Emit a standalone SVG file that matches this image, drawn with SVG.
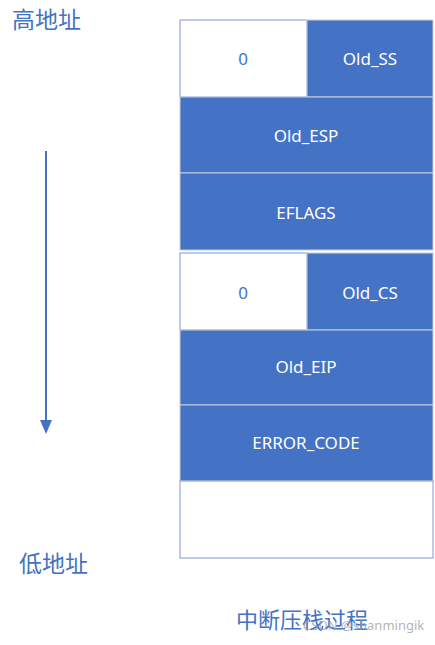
<svg xmlns="http://www.w3.org/2000/svg" width="435" height="645" viewBox="0 0 435 645">
<style>
.blue{fill:#4472C4;stroke:#C9CFD9;stroke-width:1}
.white{fill:#FFFFFF;stroke:#8FAADC;stroke-width:1.2}
.lw{font-family:"Noto Sans","Noto Sans CJK SC",sans-serif;font-size:17px;fill:#FFFFFF;text-anchor:middle;dominant-baseline:central}
.lb{font-family:"Noto Sans","Noto Sans CJK SC",sans-serif;font-size:17px;fill:#4472C4;text-anchor:middle;dominant-baseline:central}
.cjk{font-family:"Noto Sans CJK SC",sans-serif;fill:#4472C4}
</style>
<rect width="435" height="645" fill="#FFFFFF"/>
<g id="n_zero1"><rect class="white" x="180" y="20" width="127" height="77"/><text class="lb" x="243" y="58">0</text></g>
<g id="n_oldss"><rect class="blue" x="307" y="20" width="126" height="77"/><text class="lw" x="370" y="58">Old_SS</text></g>
<g id="n_oldesp"><rect class="blue" x="180" y="97" width="253" height="76"/><text class="lw" x="306" y="135">Old_ESP</text></g>
<g id="n_eflags"><rect class="blue" x="180" y="173" width="253" height="77"/><text class="lw" x="306" y="212">EFLAGS</text></g>
<g id="n_zero2"><rect class="white" x="180" y="253" width="127" height="77"/><text class="lb" x="243" y="292">0</text></g>
<g id="n_oldcs"><rect class="blue" x="307" y="253" width="126" height="77"/><text class="lw" x="370" y="292">Old_CS</text></g>
<g id="n_oldeip"><rect class="blue" x="180" y="330" width="253" height="75"/><text class="lw" x="306" y="366">Old_EIP</text></g>
<g id="n_errcode"><rect class="blue" x="180" y="405" width="253" height="76"/><text class="lw" x="306" y="442">ERROR_CODE</text></g>
<g id="n_empty"><rect class="white" x="180" y="481" width="253" height="77"/></g>
<g id="connectors">
<line x1="46" y1="151" x2="46" y2="422" stroke="#4472C4" stroke-width="2"/>
<polygon points="40,420 52,420 46,434" fill="#4472C4"/>
</g>
<g id="labels">
<text class="cjk" x="12" y="28" font-size="23">高地址</text>
<text class="cjk" x="19" y="572" font-size="23">低地址</text>
<text class="cjk" x="236" y="628" font-size="22">中断压栈过程</text>
<text x="303" y="630" font-family="'Noto Sans',sans-serif" font-size="13" fill="#A0A0A0" fill-opacity="0.8">CSDN @shanmingik</text>
</g>
</svg>
